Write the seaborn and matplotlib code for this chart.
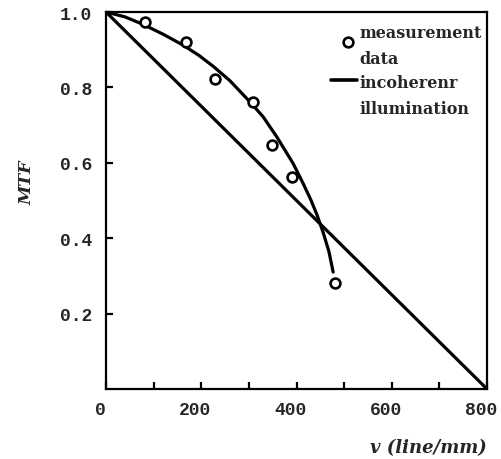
import matplotlib
matplotlib.use("Agg")
import matplotlib.pyplot as plt
import matplotlib.transforms as mtransforms
import numpy as np
import seaborn as sns
from matplotlib.lines import Line2D
from matplotlib.legend_handler import HandlerLine2D
from matplotlib.ticker import MultipleLocator

# measured data points
meas_x = [82, 168, 229, 309, 349, 390, 481]
meas_y = [0.973, 0.92, 0.822, 0.761, 0.647, 0.562, 0.281]

fit_x = [0, 40, 78, 120, 162, 195, 225, 260, 302, 330, 359, 393, 414, 430, 443, 456, 468, 477]
fit_y = [1.0, 0.987, 0.967, 0.941, 0.912, 0.885, 0.856, 0.818, 0.762, 0.722, 0.668,
         0.598, 0.545, 0.502, 0.462, 0.415, 0.365, 0.31]

# incoherent illumination (straight line)
inc_x = [0, 800]
inc_y = [1.0, 0.0]

x_ticks = [0, 200, 400, 600, 800]
y_ticks = [0.2, 0.4, 0.6, 0.8, 1.0]
y_tick_labels = ["0.2", "0.4", "0.6", "0.8", "1.0"]

sns.set_style("ticks")
plt.rcParams['font.family'] = ['DejaVu Serif']

fig = plt.figure(figsize=(5.01, 4.6), dpi=100)
ax = fig.add_axes([106/501, 70/460, 381/501, 377/460])

sns.lineplot(x=inc_x, y=inc_y, ax=ax, color="black", linewidth=2.3)
sns.lineplot(x=fit_x, y=fit_y, ax=ax, color="black", linewidth=2.3, sort=False)
sns.scatterplot(x=meas_x, y=meas_y, ax=ax, marker="o", s=50, facecolor="white",
                edgecolor="black", linewidth=1.9, zorder=5)

ax.set_xlim(0, 800)
ax.set_ylim(0, 1.0)
ax.set_xticks(x_ticks)
ax.xaxis.set_minor_locator(MultipleLocator(100))
ax.set_yticks(y_ticks)
ax.set_yticklabels(y_tick_labels)

for s in ax.spines.values():
    s.set_linewidth(1.6)
    s.set_color("black")
    s.set_visible(True)

ax.tick_params(axis="both", which="both", direction="in", length=5, width=1.6, color="black")
ax.tick_params(axis="x", which="major", pad=9)
ax.tick_params(axis="y", which="major", pad=10)
shift = mtransforms.ScaledTranslation(-0.06, 0, fig.dpi_scale_trans)
for lab in ax.get_xticklabels():
    lab.set_transform(lab.get_transform() + shift)
for lab in ax.get_xticklabels() + ax.get_yticklabels():
    lab.set_fontfamily("Liberation Mono")
    lab.set_fontweight("bold")
    lab.set_fontsize(13)

ax.set_xlabel("v (line/mm)", fontsize=13, fontweight="bold", fontstyle="italic", loc="right")
ax.xaxis.set_label_coords(1.0, -0.13)
ax.set_ylabel("MTF", fontsize=12.5, fontweight="bold", fontstyle="italic")
ax.yaxis.set_label_coords(-0.185, 0.55)


class HandlerTop(HandlerLine2D):
    def create_artists(self, legend, orig_handle, xdescent, ydescent, width, height,
                       fontsize, trans):
        arts = super().create_artists(legend, orig_handle, xdescent, ydescent, width,
                                      height, fontsize, trans)
        for a in arts:
            a.set_ydata(np.asarray(a.get_ydata()) + 12)
        return arts


class HandlerUp(HandlerLine2D):
    def create_artists(self, legend, orig_handle, xdescent, ydescent, width, height,
                       fontsize, trans):
        arts = super().create_artists(legend, orig_handle, xdescent, ydescent, width,
                                      height, fontsize, trans)
        for a in arts:
            a.set_ydata(np.asarray(a.get_ydata()) + 3)
            a.set_xdata(np.asarray(a.get_xdata()) + 3)
        return arts


handles = [
    Line2D([], [], marker="o", linestyle="none", markerfacecolor="white",
           markeredgecolor="black", markersize=7, markeredgewidth=1.9),
    Line2D([], [], color="black", linewidth=2.6),
]
leg = ax.legend(handles, ["measurement\ndata", "incoherenr\nillumination"],
                loc="upper left", bbox_to_anchor=((331-106)/381, (390-25)/377),
                frameon=False, borderpad=0, borderaxespad=0, handlelength=1.6,
                handletextpad=0.2, labelspacing=0.45,
                handler_map={handles[0]: HandlerUp(), handles[1]: HandlerTop()},
                prop={"family": "DejaVu Serif", "weight": "bold", "size": 11.5})
for t in leg.get_texts():
    t.set_linespacing(1.7)

fig.savefig("out.png", dpi=100)
